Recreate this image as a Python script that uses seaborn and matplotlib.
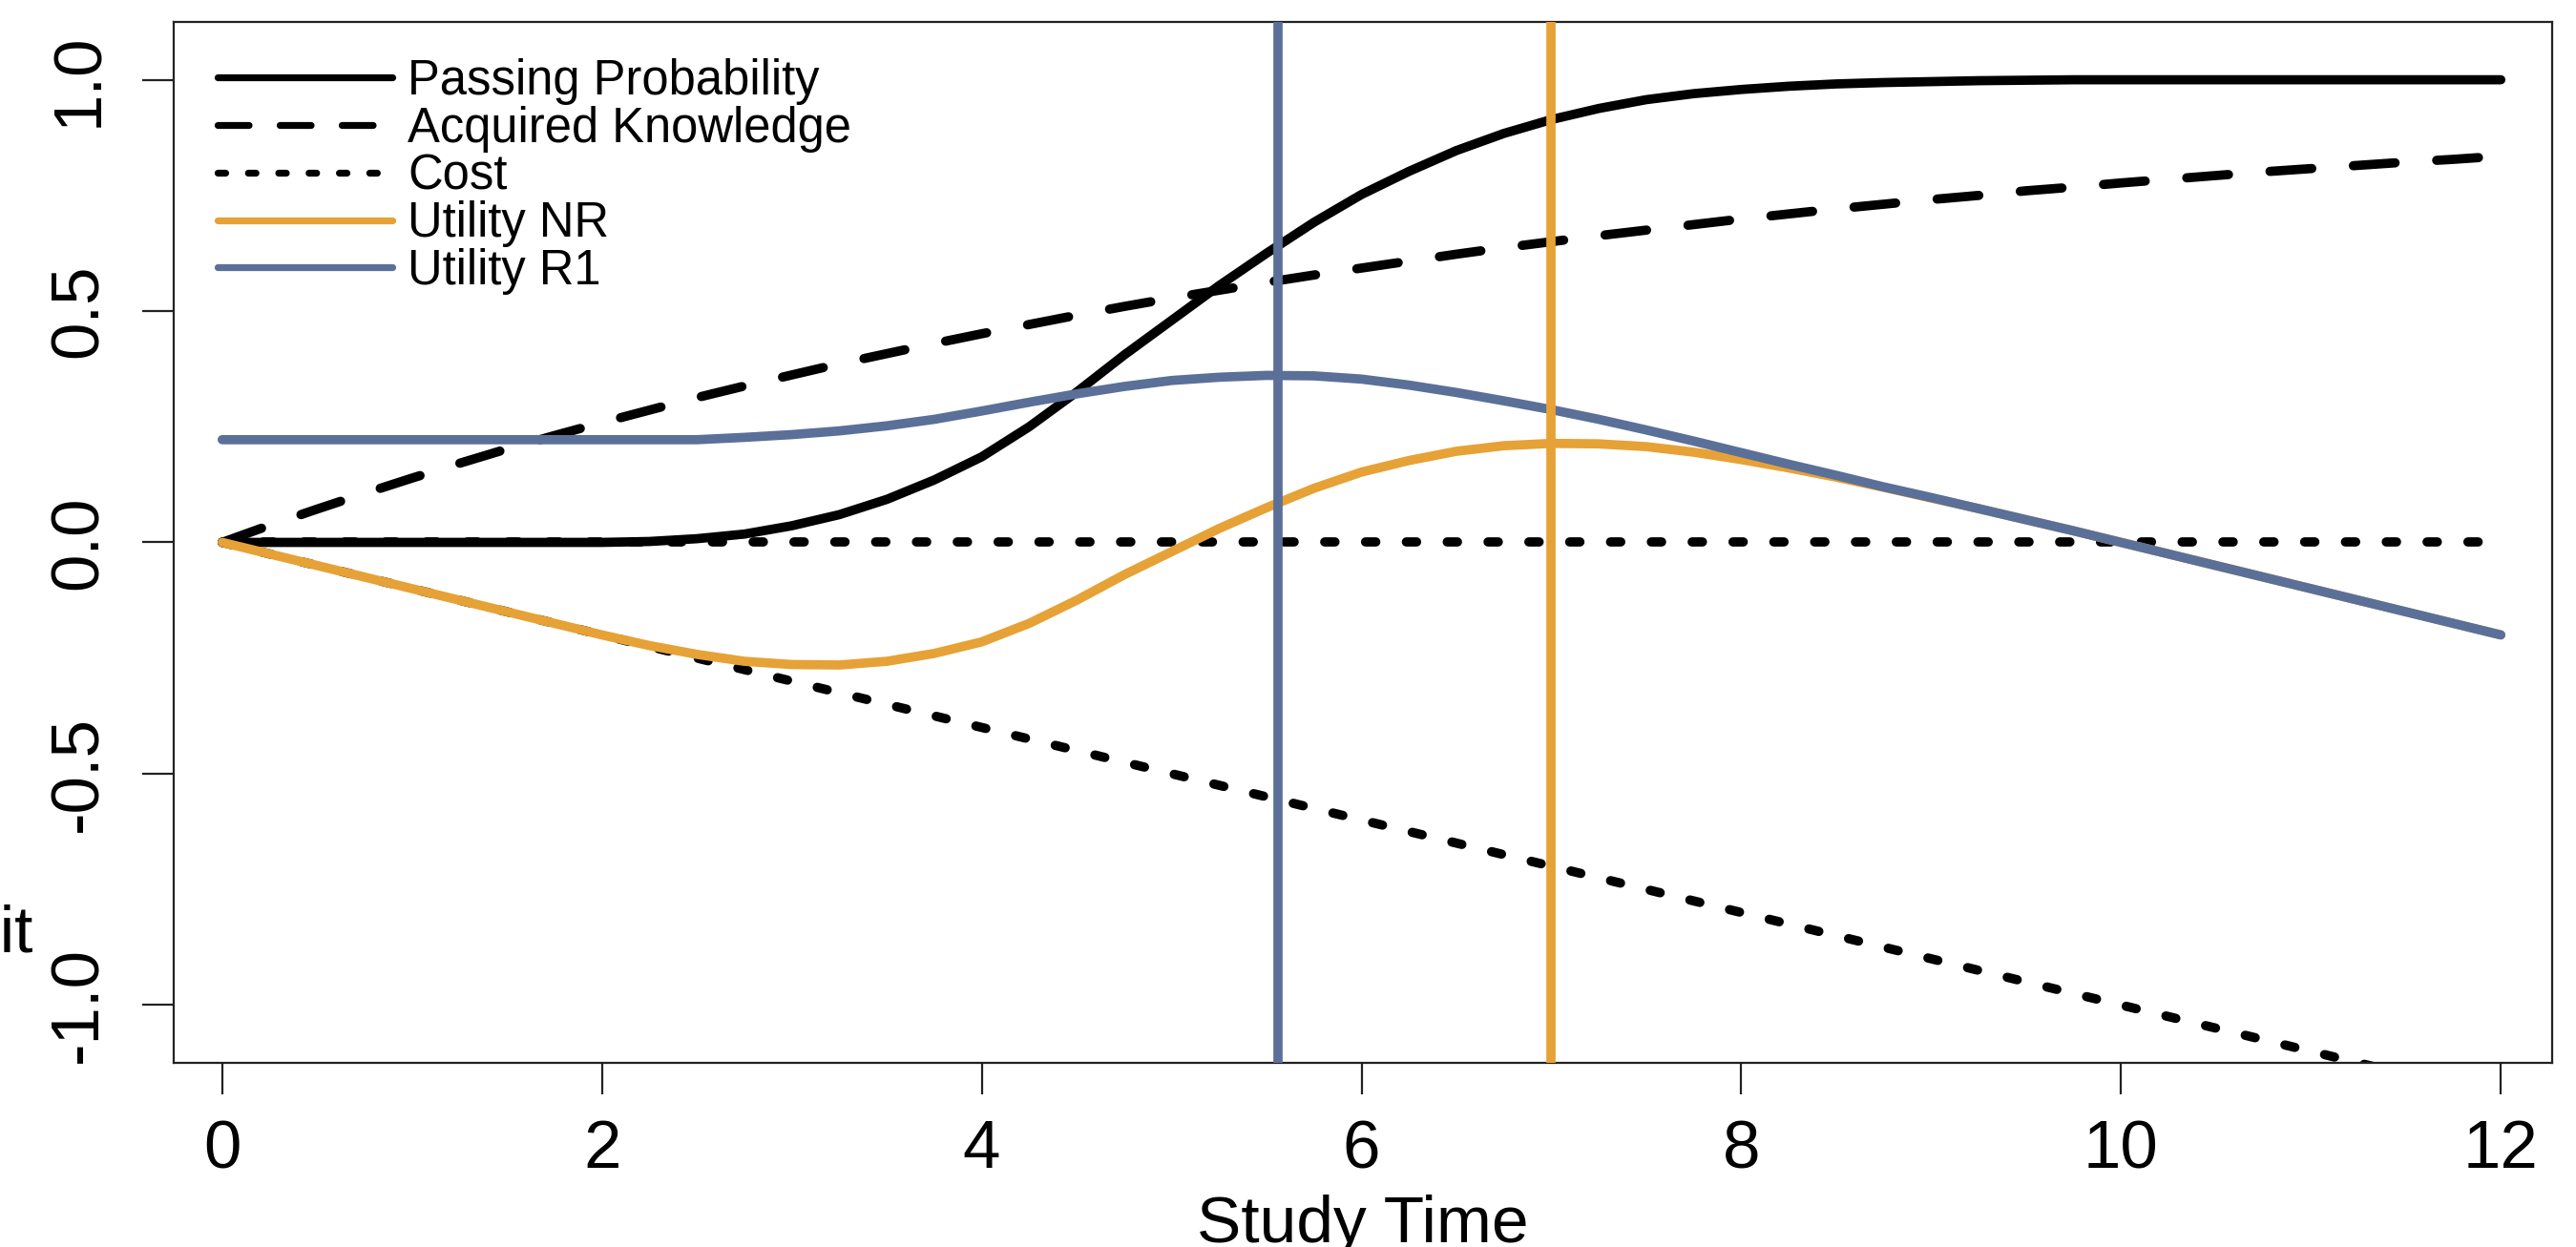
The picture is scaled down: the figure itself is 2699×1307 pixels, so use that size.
import numpy as np
import matplotlib
matplotlib.use("Agg")
import matplotlib.pyplot as plt
import seaborn as sb
from matplotlib.lines import Line2D

# study time grid (quarter steps)
study_time = np.arange(0, 12.01, 0.25)

passing_prob = [0.0, 0.0, 0.0, 0.0, 0.0, 0.0, 0.0, 0.0, 0.0,
                0.002, 0.008, 0.018, 0.036, 0.06, 0.093, 0.135,
                0.185, 0.25, 0.325, 0.405, 0.48, 0.555, 0.625, 0.692,
                0.752, 0.802, 0.847, 0.884, 0.914, 0.938, 0.957, 0.97,
                0.979, 0.986, 0.991, 0.994, 0.996, 0.998, 0.999, 1.0,
                1.0, 1.0, 1.0, 1.0, 1.0, 1.0, 1.0, 1.0, 1.0]

knowledge = [0.0, 0.037, 0.072, 0.106, 0.139, 0.171, 0.202, 0.231, 0.259,
             0.286, 0.313, 0.338, 0.362, 0.386, 0.408, 0.430, 0.451, 0.471,
             0.491, 0.510, 0.528, 0.545, 0.562, 0.578, 0.593, 0.608, 0.623,
             0.637, 0.650, 0.663, 0.675, 0.687, 0.699, 0.710, 0.721, 0.731,
             0.741, 0.750, 0.760, 0.768, 0.777, 0.785, 0.793, 0.801, 0.808,
             0.815, 0.822, 0.828, 0.835]

cost = [0.0, -0.025, -0.05, -0.075, -0.1, -0.125, -0.15, -0.175, -0.2,
        -0.225, -0.25, -0.275, -0.3, -0.325, -0.35, -0.375, -0.4, -0.425,
        -0.45, -0.475, -0.5, -0.525, -0.55, -0.575, -0.6, -0.625, -0.65,
        -0.675, -0.7, -0.725, -0.75, -0.775, -0.8, -0.825, -0.85, -0.875,
        -0.9, -0.925, -0.95, -0.975, -1.0, -1.025, -1.05, -1.075, -1.1,
        -1.125, -1.15, -1.175, -1.2]

cost_r1 = [0.0] * len(study_time)

utility_nr = [0.0, -0.025, -0.05, -0.075, -0.1, -0.125, -0.15, -0.175, -0.2,
              -0.223, -0.242, -0.257, -0.264, -0.265, -0.257, -0.24, -0.215,
              -0.175, -0.125, -0.07, -0.02, 0.03, 0.075, 0.117, 0.152, 0.177,
              0.197, 0.209, 0.214, 0.213, 0.207, 0.195, 0.179, 0.161, 0.141,
              0.119, 0.096, 0.073, 0.049, 0.025, 0.0, -0.025, -0.05, -0.075,
              -0.1, -0.125, -0.15, -0.175, -0.2]

utility_r1 = [0.222, 0.222, 0.222, 0.222, 0.222, 0.222, 0.222, 0.222, 0.222,
              0.222, 0.222, 0.227, 0.233, 0.241, 0.252, 0.266, 0.284, 0.303,
              0.321, 0.337, 0.35, 0.357, 0.361, 0.36, 0.353, 0.34, 0.324,
              0.306, 0.287, 0.266, 0.243, 0.219, 0.194, 0.169, 0.145, 0.12,
              0.097, 0.073, 0.049, 0.025, 0.0, -0.025, -0.05, -0.075, -0.1,
              -0.125, -0.15, -0.175, -0.2]

# optimal study times
best_time_r1 = 5.56
best_time_nr = 7.0

legend_labels = ['Passing Probability', 'Acquired Knowledge', 'Cost',
                 'Utility NR', 'Utility R1']

orange = '#E6A236'
blue = '#5A7099'

sb.set_style('ticks')
plt.rcParams['font.family'] = ['Liberation Sans', 'DejaVu Sans']
plt.rcParams['axes.unicode_minus'] = False
plt.rcParams['text.color'] = 'black'

fig = plt.figure(figsize=(26.99, 13.07), dpi=100)
ax = fig.add_axes([0.0674, 0.14767, 0.9233, 0.83474])

lw = 7
dash = (0, (4.5, 4.5))
dot = (0, (1.1, 3.3))
common = dict(solid_capstyle='round', dash_capstyle='round', legend=False, ax=ax)

sb.lineplot(x=study_time, y=passing_prob, color='black', lw=lw, **common)
sb.lineplot(x=study_time, y=knowledge, color='black', lw=lw, linestyle=dash, **common)
sb.lineplot(x=study_time, y=cost, color='black', lw=lw, linestyle=dot, **common)
sb.lineplot(x=study_time, y=cost_r1, color='black', lw=lw, linestyle=dot, **common)
sb.lineplot(x=study_time, y=utility_nr, color=orange, lw=lw, **common)
sb.lineplot(x=study_time, y=utility_r1, color=blue, lw=lw, **common)

ax.axvline(best_time_r1, color=blue, lw=lw, zorder=5)
ax.axvline(best_time_nr, color=orange, lw=lw, zorder=5)

ax.set_xlim(-0.256, 12.27)
ax.set_ylim(-1.125, 1.125)
ax.set_xticks([0, 2, 4, 6, 8, 10, 12])
ax.set_xticklabels(['0', '2', '4', '6', '8', '10', '12'])
ax.set_yticks([-1.0, -0.5, 0.0, 0.5, 1.0])
ax.set_yticklabels(['-1.0', '-0.5', '0.0', '0.5', '1.0'], rotation=90, va='center')

ax.tick_params(axis='both', length=24, width=1.6, color='#222222',
               labelsize=51, labelcolor='black')
ax.tick_params(axis='x', pad=18.5)
ax.tick_params(axis='y', pad=23)
for sp in ax.spines.values():
    sp.set_color('#222222')
    sp.set_linewidth(1.6)

ax.set_xlabel('')
ax.set_ylabel('')
fig.text((182 + 2674) / 2 / 2699, 1 - 1302 / 1307, 'Study Time',
         ha='center', va='baseline', fontsize=50, color='black')
fig.text(35 / 2699, 1 - 997 / 1307, 'Unit', ha='right', va='baseline',
         fontsize=50, color='black')

handles = [Line2D([], [], color='black', lw=5.2, solid_capstyle='round'),
           Line2D([], [], color='black', lw=5.2, linestyle=dash, dash_capstyle='round'),
           Line2D([], [], color='black', lw=5.2, linestyle=dot, dash_capstyle='round'),
           Line2D([], [], color=orange, lw=5.2, solid_capstyle='round'),
           Line2D([], [], color=blue, lw=5.2, solid_capstyle='round')]
leg = ax.legend(handles=handles, labels=legend_labels, loc='upper left',
                bbox_to_anchor=(228 / 2699, 1 - 61 / 1307), bbox_transform=fig.transFigure,
                frameon=False, fontsize=36.5, handlelength=3.6, handletextpad=0.33,
                labelspacing=0.015, borderpad=0, borderaxespad=0)
for t in leg.get_texts():
    t.set_color('black')

plt.savefig('out.png', dpi=100)
